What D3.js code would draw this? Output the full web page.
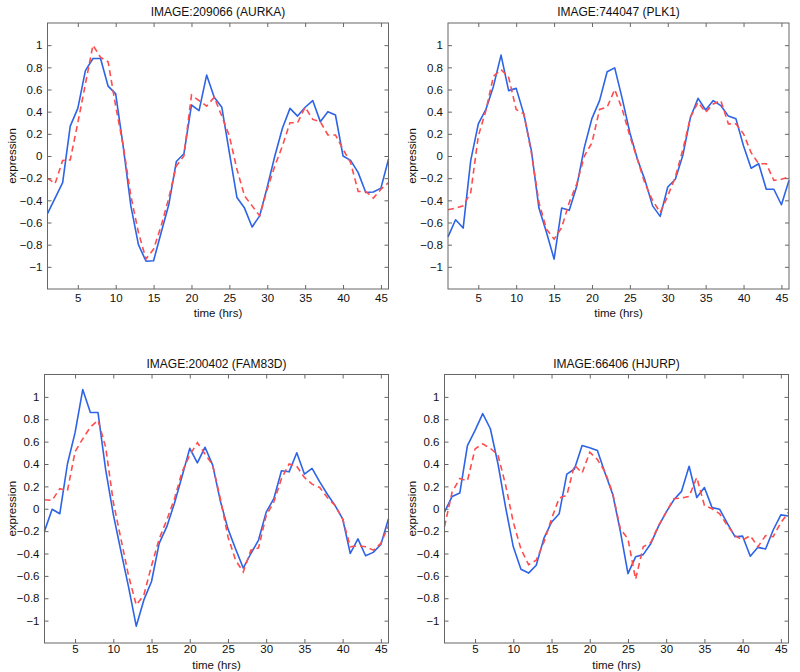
<!DOCTYPE html>
<html>
<head>
<meta charset="utf-8">
<script src="https://cdn.jsdelivr.net/npm/d3@7"></script>
<style>
  html, body { margin: 0; padding: 0; background: #fff; }
  svg { display: block; font-family: "Liberation Sans", Arial, Helvetica, sans-serif; }
</style>
</head>
<body>
<svg id="chart" width="800" height="672"></svg>
<script>
// ---- data ----
const timeHrs = d3.range(1, 47); // 1..46
const titles = ["IMAGE:209066 (AURKA)", "IMAGE:744047 (PLK1)", "IMAGE:200402 (FAM83D)", "IMAGE:66406 (HJURP)"];
const xTicks = [5, 10, 15, 20, 25, 30, 35, 40, 45];
const yTicks = [-1, -0.8, -0.6, -0.4, -0.2, 0, 0.2, 0.4, 0.6, 0.8, 1];

const aurkaObserved = [-0.52, -0.38, -0.24, 0.27, 0.43, 0.77, 0.88, 0.88, 0.63, 0.56,
  0.08, -0.45, -0.80, -0.95, -0.945, -0.69, -0.44, -0.05, 0.02, 0.46,
  0.41, 0.73, 0.53, 0.44, 0.03, -0.375, -0.47, -0.64, -0.54, -0.28,
  0.0, 0.25, 0.43, 0.36, 0.44, 0.50, 0.31, 0.40, 0.37, 0.0,
  -0.04, -0.15, -0.33, -0.325, -0.29, -0.03];
const aurkaModel = [-0.20, -0.25, -0.04, -0.035, 0.30, 0.65, 1.0, 0.89, 0.85, 0.45,
  0.09, -0.36, -0.69, -0.93, -0.84, -0.63, -0.38, -0.09, 0.0, 0.55,
  0.50, 0.45, 0.53, 0.36, 0.18, -0.12, -0.36, -0.45, -0.54, -0.30,
  -0.09, 0.09, 0.30, 0.30, 0.44, 0.33, 0.31, 0.19, 0.19, 0.06,
  -0.06, -0.32, -0.32, -0.38, -0.30, -0.24];

const plk1Observed = [-0.73, -0.575, -0.65, -0.04, 0.29, 0.42, 0.63, 0.91, 0.59, 0.61,
  0.38, 0.05, -0.47, -0.69, -0.93, -0.47, -0.49, -0.27, 0.08, 0.34,
  0.50, 0.76, 0.795, 0.515, 0.21, -0.03, -0.22, -0.45, -0.545, -0.28,
  -0.21, 0.01, 0.35, 0.52, 0.415, 0.50, 0.455, 0.36, 0.335, 0.09,
  -0.11, -0.07, -0.30, -0.30, -0.44, -0.22];
const plk1Model = [-0.485, -0.47, -0.45, -0.33, 0.18, 0.41, 0.72, 0.78, 0.71, 0.42,
  0.38, 0.03, -0.42, -0.66, -0.75, -0.645, -0.42, -0.25, 0.0, 0.12,
  0.42, 0.44, 0.60, 0.42, 0.18, -0.03, -0.25, -0.40, -0.51, -0.36,
  -0.19, 0.06, 0.35, 0.485, 0.395, 0.47, 0.50, 0.29, 0.29, 0.20,
  0.03, -0.07, -0.07, -0.22, -0.21, -0.19];

const fam83dObserved = [-0.20, -0.005, -0.045, 0.40, 0.68, 1.065, 0.86, 0.86, 0.35, -0.05,
  -0.38, -0.70, -1.05, -0.815, -0.65, -0.31, -0.16, 0.05, 0.29, 0.54,
  0.41, 0.55, 0.39, 0.07, -0.18, -0.36, -0.53, -0.40, -0.28, -0.03,
  0.09, 0.34, 0.33, 0.50, 0.31, 0.36, 0.24, 0.13, 0.03, -0.09,
  -0.40, -0.27, -0.42, -0.39, -0.32, -0.09];
const fam83dModel = [0.08, 0.075, 0.18, 0.16, 0.51, 0.625, 0.73, 0.79, 0.55, 0.06,
  -0.27, -0.60, -0.86, -0.77, -0.51, -0.27, -0.10, 0.09, 0.33, 0.48,
  0.59, 0.49, 0.39, 0.09, -0.25, -0.46, -0.565, -0.37, -0.35, -0.06,
  0.06, 0.27, 0.40, 0.38, 0.28, 0.22, 0.19, 0.10, 0.03, -0.09,
  -0.34, -0.33, -0.34, -0.37, -0.31, -0.15];

const hjurpObserved = [-0.03, 0.11, 0.14, 0.565, 0.70, 0.85, 0.715, 0.40, 0.01, -0.34,
  -0.54, -0.575, -0.505, -0.265, -0.12, -0.045, 0.31, 0.355, 0.565, 0.545,
  0.52, 0.32, 0.13, -0.20, -0.58, -0.43, -0.41, -0.31, -0.155, -0.03,
  0.08, 0.155, 0.38, 0.10, 0.19, 0.01, -0.005, -0.13, -0.25, -0.245,
  -0.425, -0.345, -0.36, -0.19, -0.055, -0.065];
const hjurpModel = [-0.16, 0.15, 0.27, 0.25, 0.535, 0.58, 0.54, 0.48, 0.21, -0.12,
  -0.36, -0.50, -0.46, -0.30, -0.09, 0.095, 0.12, 0.39, 0.32, 0.505,
  0.44, 0.33, 0.14, -0.18, -0.27, -0.63, -0.34, -0.30, -0.15, -0.03,
  0.09, 0.095, 0.11, 0.28, 0.03, 0.0, -0.045, -0.15, -0.24, -0.28,
  -0.24, -0.34, -0.24, -0.25, -0.125, -0.03];

const observedSeries = [aurkaObserved, plk1Observed, fam83dObserved, hjurpObserved];
const modelSeries = [aurkaModel, plk1Model, fam83dModel, hjurpModel];

// ---- layout ----
const panels = [
  { left: 47.5, right: 388.5, top: 23, bottom: 289, xlab: 28, pad: 5 },
  { left: 448, right: 789, top: 23, bottom: 289, xlab: 28, pad: 5 },
  { left: 44.5, right: 388.5, top: 374.5, bottom: 643, xlab: 25.5, pad: 2 },
  { left: 444.5, right: 788.5, top: 374.5, bottom: 643, xlab: 25.5, pad: 2 }
];

const svg = d3.select("#chart");
const fmt = d3.format(".1~f");

panels.forEach((p, i) => {
  const x = d3.scaleLinear().domain([1, 46]).range([p.left, p.right]);
  const y = d3.scaleLinear().domain([-1.2, 1.2]).range([p.bottom, p.top]);
  const g = svg.append("g");

  // lines
  const line = d3.line().x((d, j) => x(timeHrs[j])).y(d => y(d));
  g.append("path").datum(observedSeries[i])
    .attr("d", line).attr("fill", "none")
    .attr("stroke", "#2d64e6").attr("stroke-width", 1.6)
    .attr("stroke-linejoin", "round");
  g.append("path").datum(modelSeries[i])
    .attr("d", line).attr("fill", "none")
    .attr("stroke", "#ff4d4d").attr("stroke-width", 1.6)
    .attr("stroke-dasharray", "6,4");

  // axes (ticks inward, box)
  const axB = d3.axisBottom(x).tickValues(xTicks).tickSizeInner(-4).tickSizeOuter(0).tickPadding(p.pad).tickFormat(d3.format("d"));
  const axT = d3.axisTop(x).tickValues(xTicks).tickSizeInner(-4).tickSizeOuter(0).tickFormat("");
  const axL = d3.axisLeft(y).tickValues(yTicks).tickSizeInner(-4).tickSizeOuter(0).tickPadding(5).tickFormat(fmt);
  const axR = d3.axisRight(y).tickValues(yTicks).tickSizeInner(-4).tickSizeOuter(0).tickFormat("");

  const styleAxis = sel => {
    sel.select(".domain").remove();
    sel.selectAll(".tick line").attr("stroke", "#666");
    sel.selectAll("text").attr("fill", "#111").style("font-size", "11.5px")
      .style("font-family", "'Liberation Sans', Arial, sans-serif");
  };
  g.append("g").attr("transform", `translate(0,${p.bottom})`).call(axB).call(styleAxis);
  g.append("g").attr("transform", `translate(0,${p.top})`).call(axT).call(styleAxis);
  g.append("g").attr("transform", `translate(${p.left},0)`).call(axL).call(styleAxis);
  g.append("g").attr("transform", `translate(${p.right},0)`).call(axR).call(styleAxis);

  g.append("rect")
    .attr("x", p.left).attr("y", p.top)
    .attr("width", p.right - p.left).attr("height", p.bottom - p.top)
    .attr("fill", "none").attr("stroke", "#666").attr("stroke-width", 1);

  // title
  g.append("text")
    .attr("x", (p.left + p.right) / 2).attr("y", p.top - 7)
    .attr("text-anchor", "middle").attr("fill", "#111")
    .style("font-size", "12px").text(titles[i]);

  // x label
  g.append("text")
    .attr("x", (p.left + p.right) / 2).attr("y", p.bottom + p.xlab)
    .attr("text-anchor", "middle").attr("fill", "#111")
    .style("font-size", "11.5px").text("time (hrs)");

  // y label
  const lx = i % 2 === 0 ? 16 : 416;
  g.append("text")
    .attr("transform", `translate(${lx},${(p.top + p.bottom) / 2}) rotate(-90)`)
    .attr("text-anchor", "middle").attr("fill", "#111")
    .style("font-size", "11.5px").text("expression");
});
</script>
</body>
</html>
